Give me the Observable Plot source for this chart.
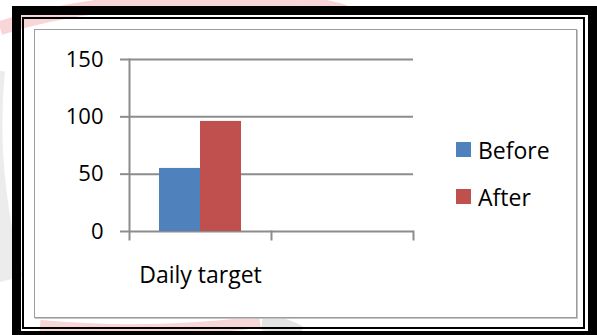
<!DOCTYPE html>
<html>
<head>
<meta charset="utf-8">
<script src="https://cdn.jsdelivr.net/npm/d3@7"></script>
<script src="https://cdn.jsdelivr.net/npm/@observablehq/plot@0.6"></script>
<style>
  html, body { margin: 0; padding: 0; background: #fff; overflow: hidden; }
  #page { position: relative; width: 597px; height: 335px; overflow: hidden; font-family: "Open Sans", sans-serif; }
  #mark-bg { position: absolute; left: 0; top: 0; opacity: 0.55; }
  .box { position: absolute; box-sizing: border-box; }
  #outer { left: 12px; top: 6px; width: 585px; height: 334px; border: 9px solid #000; }
  #inner { left: 22px; top: 17px; width: 563px; height: 312px; border: 2px solid #000; }
  #panel { left: 34px; top: 29px; width: 543px; height: 289px; border: 1px solid #9c9c9c; box-shadow: 1px 1px 0 #c4c4c4; background: #fff; }
  #chart { position: absolute; left: 0; top: 0; }
  #legend { position: absolute; left: 456px; top: 126px; font-size: 23px; color: #000; }
  .row { display: flex; align-items: center; height: 47px; margin: 0; }
  .row .sw { width: 15px; height: 15px; margin-right: 7px; }
</style>
</head>
<body>
<div id="page">
  <svg id="mark-bg" width="597" height="335">
    <path d="M 0 28 Q 120 -10 300 2" fill="none" stroke="#f3b4b7" stroke-width="14"/>
    <path d="M 300 2 Q 330 4 345 10" fill="none" stroke="#f3b4b7" stroke-width="10"/>
    <path d="M -10 70 Q -20 170 8 280" fill="none" stroke="#dddddd" stroke-width="30"/>
    <path d="M 40 326 Q 150 336 260 322" fill="none" stroke="#f3b4b7" stroke-width="12"/>
    <path d="M 262 322 Q 285 325 300 334" fill="none" stroke="#cfcfcf" stroke-width="16"/>
  </svg>
  <div id="outer" class="box"></div>
  <div id="inner" class="box"></div>
  <div id="panel" class="box"></div>
  <div id="chart"></div>
  <div id="legend"></div>
</div>
<script>
// Categories along the horizontal axis (the second slot is left empty)
const categories = ["Daily target", ""];
// Series shown side by side in each category
const seriesNames = ["Before", "After"];
const beforeValues = [55, null];
const afterValues = [96, null];
// Value axis ticks
const yTicks = [0, 50, 100, 150];

const seriesColors = ["#4F81BD", "#C0504D"];
const lineGray = "#8c8c8c";

// One row per category and series; empty slots keep their facet
const rows = [];
categories.forEach((cat, i) => {
  [beforeValues, afterValues].forEach((vals, j) => {
    rows.push({cat, series: seriesNames[j], value: vals[i]});
  });
});

const chart = Plot.plot({
  width: 597,
  height: 335,
  marginLeft: 129,
  marginRight: 184,
  marginTop: 59,
  marginBottom: 104,
  style: {background: "transparent", fontFamily: "'Open Sans', sans-serif", color: "#000", overflow: "visible"},
  fx: {domain: categories, padding: 0},
  x: {domain: seriesNames, paddingInner: 0, paddingOuter: 0.73, axis: null},
  y: {domain: [0, 150]},
  color: {domain: seriesNames, range: seriesColors},
  marks: [
    Plot.gridY(yTicks, {stroke: lineGray, strokeOpacity: 1, strokeWidth: 2}),
    Plot.barY(rows, {fx: "cat", x: "series", y: "value", fill: "series"}),
    Plot.axisY(yTicks, {tickSize: 9, tickPadding: 17, fontSize: 22, stroke: lineGray, strokeWidth: 2, label: null, tickFormat: d => String(d)}),
    Plot.frame({anchor: "left", facetAnchor: "left", stroke: lineGray, strokeWidth: 2, insetBottom: -8}),
    Plot.frame({anchor: "right", stroke: lineGray, strokeWidth: 2, insetTop: 172, insetBottom: -8}),
    Plot.axisFx({anchor: "bottom", tickSize: 0, tickPadding: 35, fontSize: 23, label: null})
  ]
});
document.getElementById("chart").appendChild(chart);

const legend = document.getElementById("legend");
seriesNames.forEach((name, i) => {
  const row = document.createElement("div");
  row.className = "row";
  const sw = document.createElement("span");
  sw.className = "sw";
  sw.style.background = seriesColors[i];
  const label = document.createElement("span");
  label.textContent = name;
  row.append(sw, label);
  legend.appendChild(row);
});
</script>
</body>
</html>
